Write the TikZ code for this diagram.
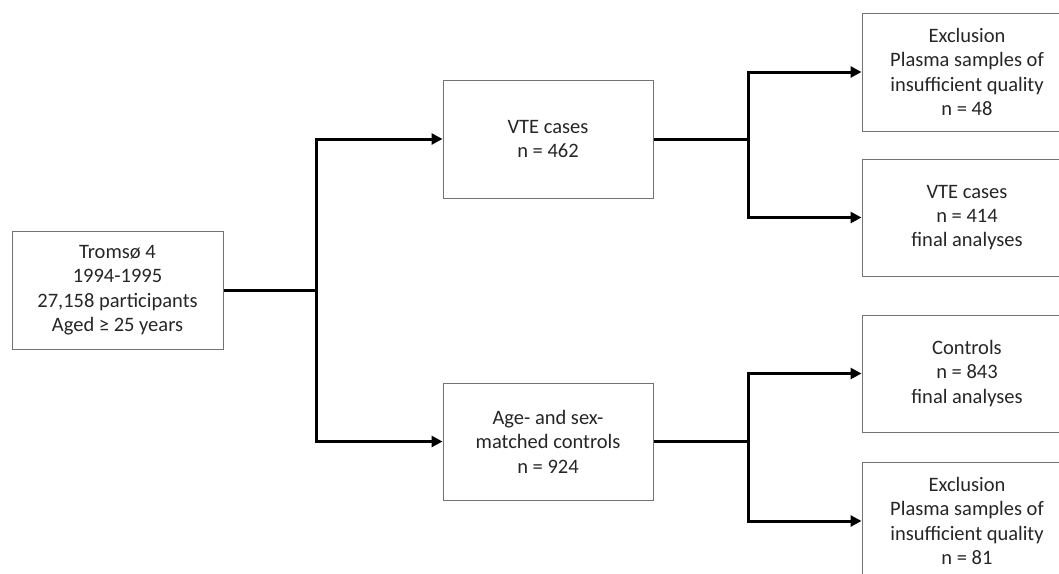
\documentclass[tikz,border=0pt]{standalone}
\usepackage{fontspec}
\setmainfont{Carlito}
\usetikzlibrary{arrows.meta}
\begin{document}
\begin{tikzpicture}[x=1pt,y=-1pt,
  box/.style={draw=black!55, line width=1pt, fill=white, align=center,
    minimum width=210pt, minimum height=118pt, inner sep=0pt,
    font=\fontsize{20.5}{24.4}\selectfont, text=black!85},
  conn/.style={line width=3pt, black},
  arr/.style={conn, -{Triangle[length=11pt,width=11pt]}}]
\useasboundingbox (0,0) rectangle (1059,573);
\clip (0,0) rectangle (1059,573);
\node[box, minimum width=211pt] (tromso) at (117.5,290) {Tromsø 4\\1994-1995\\27,158 participants\\Aged ≥ 25 years};
\node[box] (vte) at (548,139) {VTE cases\\n = 462};
\node[box, minimum height=117pt] (age) at (548,441.5) {Age- and sex-\\matched controls\\n = 924};
\node[box] (ex1) at (967,72) {Exclusion\\Plasma samples of\\insufficient quality\\n = 48};
\node[box, minimum height=117pt] (vte2) at (967,217.5) {VTE cases\\n = 414\\final analyses};
\node[box, minimum height=117pt] (ctrl) at (967,373.5) {Controls\\n = 843\\final analyses};
\node[box] (ex2) at (967,521) {Exclusion\\Plasma samples of\\insufficient quality\\n = 81};
\coordinate (j1) at (316,290);
\coordinate (j2) at (748,139);
\coordinate (j3) at (748,441.5);
\draw[conn] (tromso.east) -- (j1);
\draw[arr] (j1) |- (vte.west);
\draw[arr] (j1) |- (age.west);
\draw[conn] (vte.east) -- (j2);
\draw[arr] (j2) |- (ex1.west);
\draw[arr] (j2) |- (vte2.west);
\draw[conn] (age.east) -- (j3);
\draw[arr] (j3) |- (ctrl.west);
\draw[arr] (j3) |- (ex2.west);
\end{tikzpicture}
\end{document}
